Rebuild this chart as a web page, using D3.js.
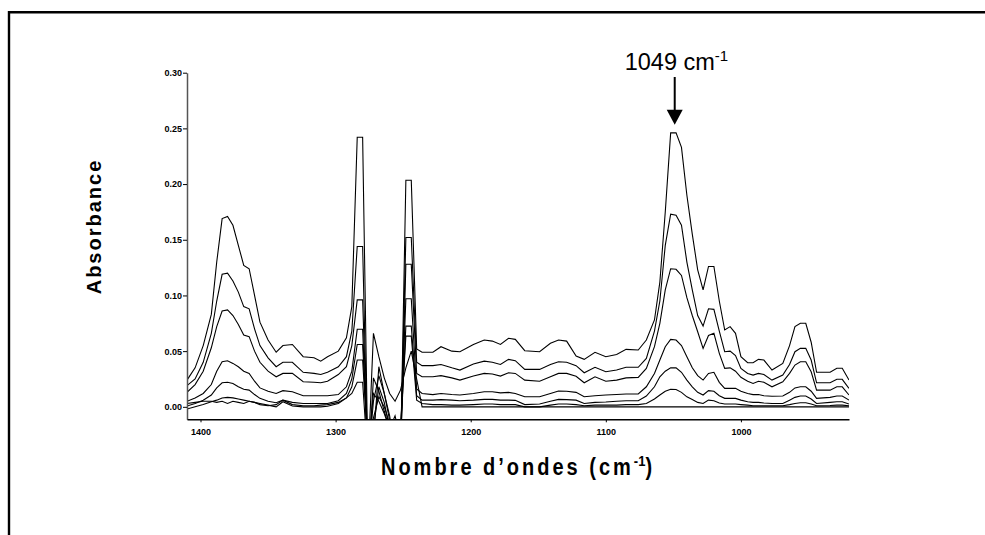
<!DOCTYPE html>
<html>
<head>
<meta charset="utf-8">
<script src="https://cdn.jsdelivr.net/npm/d3@7"></script>
<style>
    body { margin: 0; background: #fff; }
    svg { display: block; font-family: "Liberation Sans", Arial, sans-serif; }
    .tick text { font-size: 9px; font-weight: bold; fill: #000; }
    .spectrum { fill: none; stroke: #000; stroke-width: 1.1px; }
</style>
</head>
<body>
<div id="chart"></div>
<script>
// wavenumbers (cm-1), shared by every spectrum
const wavenumbers = [
    1410, 1404, 1398, 1392, 1388, 1384, 1380, 1376, 1372, 1368, 1364, 1360,
    1356, 1350, 1344, 1339, 1332, 1324, 1316, 1311, 1306, 1298, 1292, 1288,
    1284, 1280, 1276, 1272, 1268, 1264, 1260, 1256, 1252, 1248, 1244, 1240, 1236,
    1228, 1222, 1214, 1208, 1198, 1190, 1184, 1178, 1172, 1167, 1160,
    1149, 1141, 1135, 1129, 1122, 1116, 1108, 1100, 1092, 1085, 1076,
    1070, 1064, 1060, 1056, 1052, 1048, 1044, 1040, 1036, 1032, 1028, 1024, 1020,
    1016, 1012, 1008, 1004, 1000, 995, 991, 987, 983, 977, 969,
    964, 960, 956, 952, 948, 944, 934, 929, 925, 920
];

const series1 = [
    0.024, 0.035, 0.055, 0.083, 0.130, 0.169, 0.171, 0.163, 0.145, 0.127, 0.124, 0.100,
    0.076, 0.060, 0.049, 0.055, 0.056, 0.045, 0.044, 0.041, 0.045, 0.050, 0.062, 0.090,
    0.242, 0.242, -0.060, -0.030, 0.036, 0.012, -0.008, -0.040, -0.050, 0.2035, 0.2035, 0.052, 0.049,
    0.049, 0.054, 0.050, 0.0495, 0.056, 0.060, 0.059, 0.056, 0.0615, 0.0606, 0.0504,
    0.0495, 0.057, 0.060, 0.059, 0.0456, 0.0426, 0.049, 0.045, 0.047, 0.0516, 0.051,
    0.060, 0.078, 0.112, 0.175, 0.246, 0.246, 0.233, 0.190, 0.155, 0.123, 0.105, 0.126, 0.126,
    0.095, 0.069, 0.072, 0.066, 0.045, 0.0396, 0.0396, 0.0426, 0.042, 0.033, 0.039,
    0.055, 0.072, 0.075, 0.075, 0.058, 0.031, 0.031, 0.0346, 0.0346, 0.024
];

const series2 = [
    0.019, 0.025, 0.040, 0.066, 0.095, 0.119, 0.120, 0.113, 0.103, 0.090, 0.088, 0.070,
    0.055, 0.044, 0.036, 0.040, 0.040, 0.031, 0.030, 0.029, 0.031, 0.036, 0.045, 0.068,
    0.144, 0.144, -0.060, 0.026, 0.014, -0.004, -0.020, -0.050, -0.040, 0.152, 0.152, 0.040, 0.037,
    0.037, 0.038, 0.035, 0.033, 0.0384, 0.041, 0.040, 0.038, 0.0426, 0.0414, 0.0336,
    0.0336, 0.038, 0.0405, 0.040, 0.037, 0.0306, 0.0355, 0.0315, 0.033, 0.0355, 0.0355,
    0.0435, 0.068, 0.095, 0.145, 0.173, 0.172, 0.163, 0.130, 0.105, 0.082, 0.0725, 0.088, 0.0875,
    0.068, 0.0495, 0.050, 0.046, 0.0345, 0.030, 0.0285, 0.030, 0.029, 0.024, 0.0285,
    0.038, 0.0495, 0.0525, 0.0525, 0.042, 0.0216, 0.0216, 0.0247, 0.0247, 0.0166
];

const series3 = [
    0.013, 0.020, 0.032, 0.053, 0.072, 0.086, 0.087, 0.082, 0.074, 0.0645, 0.063, 0.050,
    0.040, 0.032, 0.027, 0.030, 0.030, 0.0225, 0.022, 0.0216, 0.023, 0.029, 0.036, 0.055,
    0.096, 0.096, -0.050, 0.005, 0.028, 0.012, -0.012, -0.030, -0.050, 0.128, 0.128, 0.030, 0.027,
    0.027, 0.028, 0.026, 0.024, 0.0276, 0.030, 0.0295, 0.0276, 0.0306, 0.030, 0.024,
    0.023, 0.027, 0.030, 0.030, 0.0275, 0.0216, 0.027, 0.023, 0.024, 0.026, 0.0264,
    0.0345, 0.054, 0.075, 0.105, 0.124, 0.1235, 0.118, 0.098, 0.082, 0.0674, 0.0525, 0.064, 0.066,
    0.048, 0.0345, 0.035, 0.032, 0.0265, 0.023, 0.021, 0.023, 0.022, 0.018, 0.0225,
    0.030, 0.0375, 0.0405, 0.0405, 0.0315, 0.015, 0.015, 0.018, 0.018, 0.0106
];

const series4 = [
    0.005, 0.008, 0.012, 0.020, 0.032, 0.0405, 0.0414, 0.039, 0.036, 0.032, 0.030, 0.023,
    0.017, 0.014, 0.012, 0.0145, 0.0136, 0.010, 0.010, 0.010, 0.010, 0.011, 0.018, 0.032,
    0.0696, 0.0696, -0.050, -0.020, 0.018, 0.004, -0.020, -0.030, -0.030, 0.097, 0.097, 0.016, 0.012,
    0.011, 0.012, 0.011, 0.0106, 0.012, 0.0135, 0.0136, 0.0125, 0.013, 0.012, 0.009,
    0.009, 0.012, 0.0142, 0.014, 0.013, 0.009, 0.010, 0.0106, 0.011, 0.0115, 0.0115,
    0.018, 0.030, 0.042, 0.054, 0.0606, 0.060, 0.055, 0.045, 0.035, 0.028, 0.024, 0.030, 0.031,
    0.022, 0.0166, 0.0166, 0.0166, 0.014, 0.012, 0.011, 0.011, 0.010, 0.0095, 0.0097,
    0.013, 0.017, 0.018, 0.018, 0.014, 0.0076, 0.0085, 0.0097, 0.0097, 0.006
];

const series5 = [
    0.0007, 0.003, 0.006, 0.0106, 0.017, 0.0216, 0.022, 0.021, 0.018, 0.0157, 0.015, 0.011,
    0.0076, 0.005, 0.0037, 0.006, 0.004, 0.003, 0.003, 0.003, 0.003, 0.0055, 0.012, 0.025,
    0.056, 0.056, -0.040, 0.012, 0.005, -0.006, -0.020, -0.008, -0.030, 0.0725, 0.0725, 0.010, 0.006,
    0.006, 0.0065, 0.006, 0.0055, 0.006, 0.0067, 0.0067, 0.006, 0.006, 0.0058, 0.002,
    0.0025, 0.005, 0.0067, 0.0065, 0.006, 0.003, 0.004, 0.0043, 0.005, 0.0055, 0.0055,
    0.0097, 0.018, 0.027, 0.032, 0.035, 0.035, 0.031, 0.024, 0.018, 0.013, 0.0106, 0.0145, 0.014,
    0.010, 0.0076, 0.0076, 0.0076, 0.006, 0.0045, 0.004, 0.004, 0.0035, 0.003, 0.003,
    0.006, 0.0085, 0.0097, 0.0097, 0.007, 0.003, 0.004, 0.0045, 0.0045, 0.0025
];

const series6 = [
    -0.002, 0.000, 0.002, 0.0046, 0.006, 0.008, 0.0085, 0.008, 0.007, 0.006, 0.005, 0.004,
    0.003, 0.0015, 0.000, 0.0046, 0.0007, 0.000, 0.000, 0.000, 0.0005, 0.003, 0.008, 0.018,
    0.042, 0.042, -0.040, -0.010, 0.009, 0.000, -0.015, -0.020, -0.020, 0.0635, 0.0635, 0.006, 0.003,
    0.002, 0.002, 0.0015, 0.0015, 0.002, 0.0025, 0.0025, 0.002, 0.002, 0.002, 0.000,
    0.000, 0.0015, 0.0025, 0.0025, 0.002, 0.001, 0.0015, 0.0015, 0.0015, 0.002, 0.002,
    0.003, 0.007, 0.0106, 0.014, 0.0157, 0.0155, 0.013, 0.009, 0.0065, 0.004, 0.003, 0.006, 0.0055,
    0.0035, 0.0025, 0.0025, 0.0025, 0.002, 0.0015, 0.001, 0.001, 0.001, 0.001, 0.001,
    0.002, 0.003, 0.0036, 0.0036, 0.0025, 0.001, 0.0012, 0.0015, 0.0015, 0.001
];

const series7 = [
    0.003, 0.004, 0.005, 0.005, 0.004, 0.005, 0.003, 0.005, 0.004, 0.003, 0.005, 0.004,
    0.002, 0.001, 0.002, 0.006, 0.002, 0.001, 0.001, 0.0015, 0.002, 0.004, 0.008, 0.012,
    0.022, 0.022, -0.050, 0.066, 0.045, 0.026, 0.012, 0.005, 0.015, 0.035, 0.050, 0.025, 0.000,
    0, 0, 0, 0, 0, 0, 0, 0, 0, 0, 0,
    0, 0, 0, 0, 0, 0, 0, 0, 0, 0, 0,
    0, 0, 0, 0, 0, 0, 0, 0, 0, 0, 0, 0, 0,
    0, 0, 0, 0, 0, 0, 0, 0, 0, 0, 0,
    0, 0, 0, 0, 0, 0, 0, 0, 0, 0
];

const allSeries = [series1, series2, series3, series4, series5, series6, series7];
const yTicks = [0, 0.05, 0.10, 0.15, 0.20, 0.25, 0.30];
const xTicks = [1400, 1300, 1200, 1100, 1000];
const peakWavenumber = 1049;
const peakValue = 0.246;

const width = 985, height = 535;

const svg = d3.select("#chart").append("svg")
    .attr("width", width)
    .attr("height", height);

// frame (only top and left edges are visible in the picture)
svg.append("path")
    .attr("d", "M9,535V12.3H985")
    .attr("fill", "none")
    .attr("stroke", "#000")
    .attr("stroke-width", 2.4);

const x = d3.scaleLinear().domain([1410, 920]).range([187, 849]);
const y = d3.scaleLinear().domain([-0.0112, 0.30]).range([419.3, 72.7]);

svg.append("clipPath").attr("id", "plot-clip")
    .append("rect")
    .attr("x", x.range()[0]).attr("y", y.range()[1])
    .attr("width", x.range()[1] - x.range()[0])
    .attr("height", y.range()[0] - y.range()[1]);

const line = d3.line()
    .x((d, i) => x(wavenumbers[i]))
    .y(d => y(d));

svg.append("g")
    .attr("clip-path", "url(#plot-clip)")
    .selectAll("path")
    .data(allSeries)
    .enter().append("path")
    .attr("class", "spectrum")
    .attr("d", line);

// axes
const yAxis = svg.append("g")
    .attr("transform", `translate(${x.range()[0]},0)`)
    .call(d3.axisLeft(y).tickValues(yTicks).tickFormat(d3.format(".2f"))
        .tickSize(4).tickSizeOuter(0).tickPadding(1));
yAxis.select(".domain").attr("stroke", "#555").attr("stroke-width", 1.5);

const xAxis = svg.append("g")
    .attr("transform", `translate(0,${y.range()[0]})`)
    .call(d3.axisBottom(x).tickValues(xTicks).tickFormat(d3.format("d"))
        .tickSize(3).tickSizeOuter(0).tickPadding(6));
xAxis.select(".domain").attr("stroke", "#000").attr("stroke-width", 1.5);

// axis titles
svg.append("text")
    .attr("transform", "translate(100.5,226.5) rotate(-90)")
    .attr("text-anchor", "middle")
    .style("font-size", "20px")
    .style("font-weight", "bold")
    .style("letter-spacing", "2px")
    .text("Absorbance");

const xTitle = svg.append("text")
    .attr("transform", "translate(518,475) scale(1,1.15)")
    .attr("text-anchor", "middle")
    .style("font-size", "20px")
    .style("font-weight", "bold")
    .style("letter-spacing", "3px");
xTitle.append("tspan").text("Nombre d\u2019ondes (cm");
xTitle.append("tspan").attr("dy", -8).style("font-size", "13px").style("letter-spacing", "0px").text("-1");
xTitle.append("tspan").attr("dy", 8).text(")");

// peak annotation
const px = x(peakWavenumber);
const label = svg.append("text")
    .attr("transform", `translate(${px - 50},70)`)
    .style("font-size", "23.5px");
label.append("tspan").text("1049 cm");
label.append("tspan").attr("dy", -9).style("font-size", "15px").text("-1");

const tipY = y(peakValue) - 8;
svg.append("line")
    .attr("x1", px).attr("x2", px)
    .attr("y1", 77).attr("y2", tipY - 14)
    .attr("stroke", "#000").attr("stroke-width", 2);
svg.append("path")
    .attr("d", `M${px - 8},${tipY - 15}L${px + 8},${tipY - 15}L${px},${tipY}Z`)
    .attr("fill", "#000");
</script>
</body>
</html>
